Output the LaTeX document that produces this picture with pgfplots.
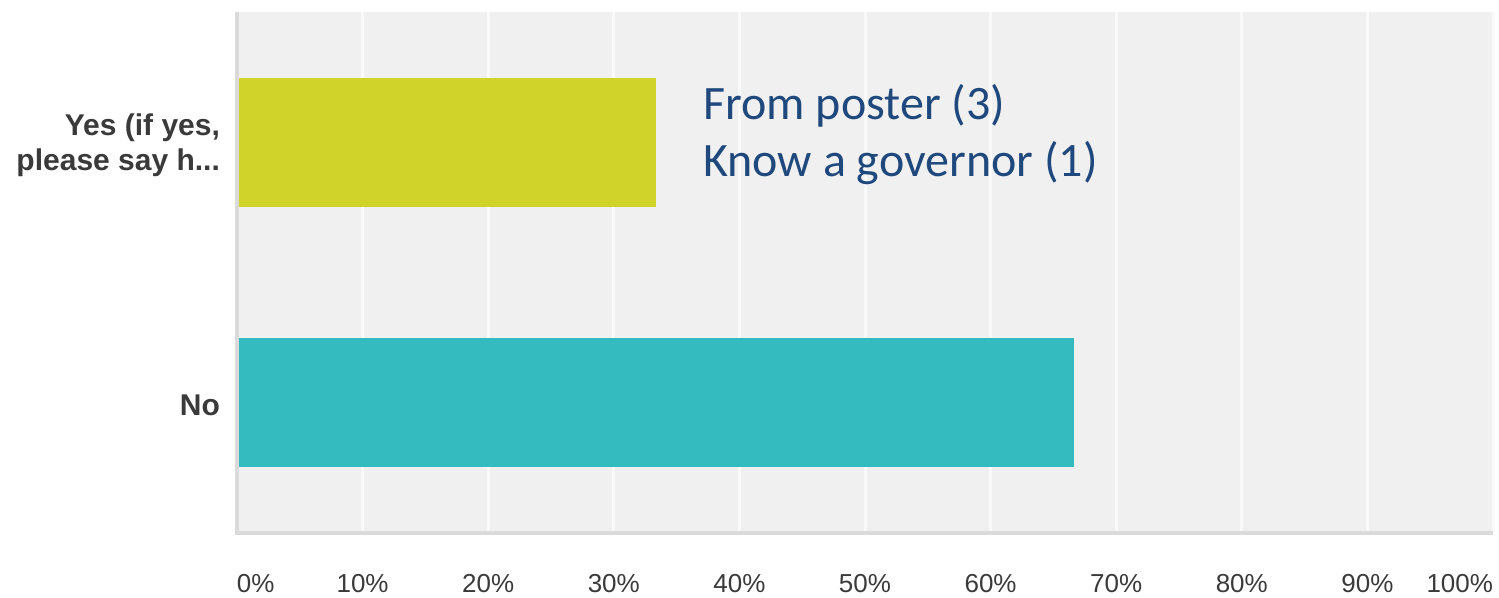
\documentclass[border=0pt]{standalone}
\usepackage{pgfplots}
\pgfplotsset{compat=1.18}
\usepackage{fontspec}
\setmainfont{Liberation Sans}
\newfontfamily\calib{Carlito}
\definecolor{bgc}{HTML}{F0F0F0}
\definecolor{gridc}{HTML}{F9F9F9}
\definecolor{framec}{HTML}{DADADA}
\definecolor{yesc}{HTML}{D0D42A}
\definecolor{noc}{HTML}{33BBBF}
\definecolor{tickc}{HTML}{3A3A3A}
\definecolor{annc}{HTML}{1F497D}
\begin{document}
\begin{tikzpicture}
\begin{axis}[
  name=ax,
  scale only axis,
  width=628pt, height=260.5pt,
  xmin=0, xmax=100, ymin=0, ymax=2,
  axis background/.style={fill=bgc},
  axis line style={draw=none},
  xbar, bar width=0.494, bar shift=0pt,
  xtick={0,10,20,30,40,50,60,70,80,90,100},
  xticklabels={\makebox[0pt][l]{0\%},10\%,20\%,30\%,40\%,50\%,60\%,70\%,80\%,90\%,\makebox[0pt][r]{100\%}},
  xticklabel style={font=\fontsize{13}{15}\selectfont, text=tickc, yshift=-17pt},
  ytick={0.5,1.5},
  yticklabels={No,{Yes (if yes,\\please say h.{}.{}.}},
  yticklabel style={font=\fontsize{15}{17.5}\selectfont\bfseries, text=tickc, align=right, xshift=-5pt, yshift=-1.5pt},
  major tick length=0pt,
  xmajorgrids, major grid style={draw=gridc, line width=1.5pt},
  clip=false,
]
\addplot[fill=yesc, draw=none] coordinates {(33.33,1.5)};
\addplot[fill=noc, draw=none] coordinates {(66.67,0.5)};
\draw[framec, line width=2pt] (rel axis cs:0,1) -- (rel axis cs:0,0) -- (rel axis cs:1,0);
\node[anchor=base west, text=annc, font=\calib\fontsize{24}{29}\selectfont, inner sep=0pt] at (axis cs:37.1,1.589) {From poster (3)};
\node[anchor=base west, text=annc, font=\calib\fontsize{24}{29}\selectfont, inner sep=0pt] at (axis cs:37.1,1.367) {Know a governor (1)};
\end{axis}
\pgfresetboundingbox
\path[use as bounding box] ([xshift=-118.5pt,yshift=-32.5pt]ax.south west) rectangle ([xshift=3pt,yshift=6pt]ax.north east);
\end{tikzpicture}
\end{document}
